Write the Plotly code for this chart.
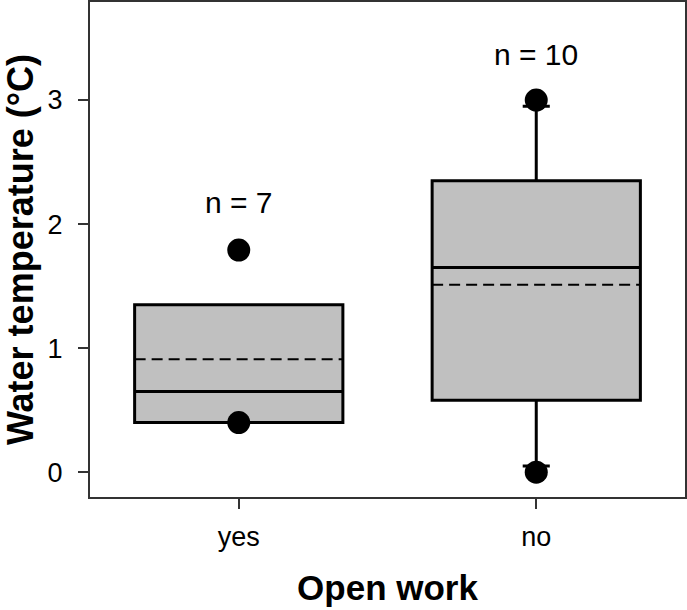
import plotly.graph_objects as go

# Box summary values
groups = ["yes", "no"]
n_obs = [7, 10]
q1 = [0.40, 0.58]
median = [0.65, 1.65]
q3 = [1.35, 2.35]
mean = [0.91, 1.51]
lower_whisker = [0.40, 0.05]
upper_whisker = [1.35, 2.95]
outlier_x = [0, 0, 1, 1]
outlier_y = [1.79, 0.40, 3.00, 0.00]
label_y = [2.17, 3.37]

pos = list(range(len(groups)))
box_w = 0.70

fig = go.Figure()

fig.add_trace(
    go.Box(
        x=pos,
        q1=q1,
        median=median,
        q3=q3,
        lowerfence=lower_whisker,
        upperfence=upper_whisker,
        width=box_w,
        whiskerwidth=0.13,
        fillcolor="#C0C0C0",
        line=dict(color="black", width=3),
        boxpoints=False,
        showlegend=False,
    )
)

# dashed mean lines across each box
for p, m in zip(pos, mean):
    fig.add_trace(
        go.Scatter(
            x=[p - box_w / 2, p + box_w / 2],
            y=[m, m],
            mode="lines",
            line=dict(color="black", width=2, dash="11px,6px"),
            showlegend=False,
        )
    )

fig.add_trace(
    go.Scatter(
        x=outlier_x,
        y=outlier_y,
        mode="markers",
        marker=dict(color="black", size=23),
        showlegend=False,
    )
)

for p, n, ly in zip(pos, n_obs, label_y):
    fig.add_annotation(
        x=p, y=ly, text=f"n = {n}", showarrow=False,
        font=dict(size=30, color="black"),
    )

fig.update_layout(
    width=687,
    height=610,
    margin=dict(l=90, r=2, t=2, b=113),
    plot_bgcolor="white",
    paper_bgcolor="white",
    font=dict(family="Liberation Sans, Arial", color="black"),
)
fig.update_xaxes(
    range=[-0.5, 1.5],
    tickvals=pos,
    ticktext=groups,
    ticks="outside",
    ticklen=10,
    tickwidth=2,
    tickcolor="#333",
    tickfont=dict(size=27),
    ticklabelstandoff=5,
    showline=True,
    linecolor="#333",
    linewidth=2,
    mirror=True,
    showgrid=False,
    zeroline=False,
    automargin=False,
    title=dict(text="<b>Open work</b>", font=dict(size=35), standoff=24),
)
fig.update_yaxes(
    range=[-0.2, 3.79],
    tickvals=[0, 1, 2, 3],
    ticks="outside",
    ticklen=10,
    tickwidth=2,
    tickcolor="#333",
    tickfont=dict(size=27),
    ticklabelstandoff=10,
    showline=True,
    linecolor="#333",
    linewidth=2,
    mirror=True,
    showgrid=False,
    zeroline=False,
    automargin=False,
    title=dict(text="<b>Water temperature (°C)</b>", font=dict(size=36), standoff=16),
)

# drop the default page margin so the figure fills the window
fig.write_html(
    "out.html",
    config={"displayModeBar": False},
    post_script="document.body.style.margin='0';",
)
